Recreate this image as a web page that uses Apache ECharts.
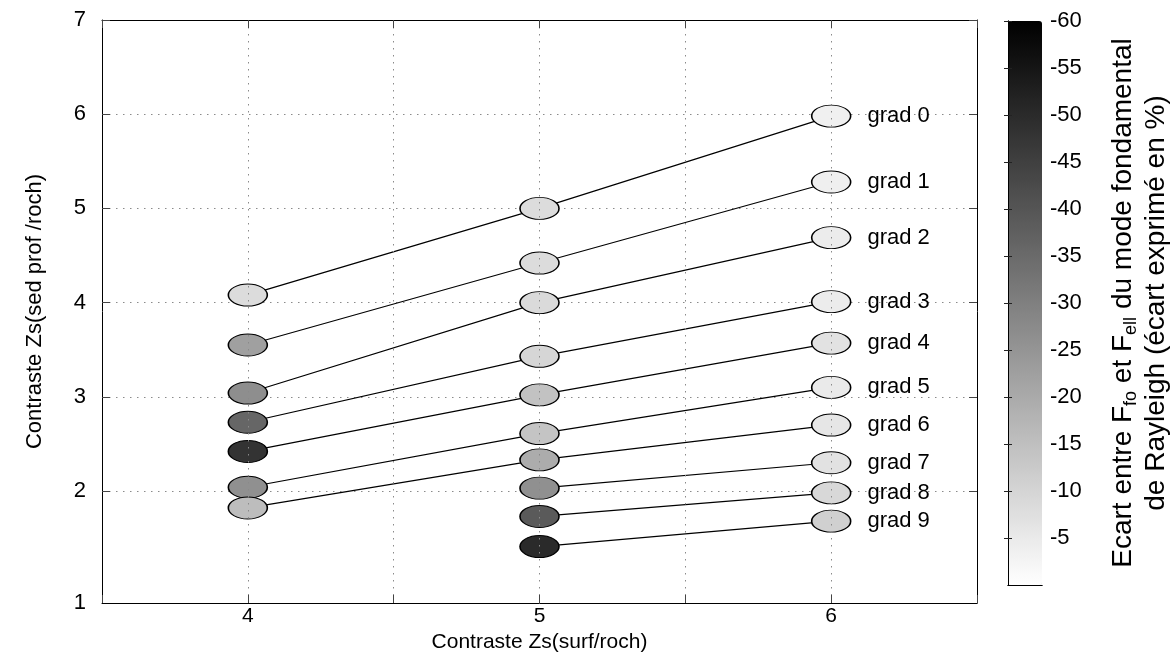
<!DOCTYPE html>
<html>
<head>
<meta charset="utf-8">
<script src="https://cdn.jsdelivr.net/npm/echarts@6/dist/echarts.min.js"></script>
<style>
html,body{margin:0;padding:0;background:#fff;}
#chart{width:1176px;height:652px;}
</style>
</head>
<body>
<div id="chart"></div>
<script>
// ---- data ----
const gradNames = ['grad 0','grad 1','grad 2','grad 3','grad 4','grad 5','grad 6','grad 7','grad 8','grad 9'];
const gradX = [
  [4,5,6],[4,5,6],[4,5,6],[4,5,6],[4,5,6],[4,5,6],[4,5,6],
  [5,6],[5,6],[5,6]
];
const gradY = [
  [4.08, 5.00, 5.98],
  [3.55, 4.42, 5.28],
  [3.04, 4.00, 4.69],
  [2.73, 3.43, 4.01],
  [2.42, 3.02, 3.57],
  [2.04, 2.61, 3.10],
  [1.82, 2.33, 2.70],
  [2.03, 2.30],
  [1.73, 1.98],
  [1.41, 1.68]
];
// Ecart (%) between F_fo and F_ell, read from the grey levels
const gradEcart = [
  [-8.2, -8.2, -3.5],
  [-22.4, -8.2, -3.8],
  [-26.6, -8.7, -4.5],
  [-36.0, -9.6, -4.5],
  [-48.0, -14.4, -6.8],
  [-26.1, -13.9, -4.9],
  [-15.5, -19.5, -5.9],
  [-26.1, -6.8],
  [-38.8, -9.2],
  [-50.1, -11.1]
];
const xLabelValues = [4, 5, 6];
// the reference's bottom tick "1" sits lower than a linear scale through 2..7 would put it
const yAxisMin = 0.811;
const yTickValues = [yAxisMin, 2, 3, 4, 5, 6, 7];
const yTickLabels = ['1', '2', '3', '4', '5', '6', '7'];
const yGridValues = [2, 3, 4, 5, 6];
const colorbarTicks = [-60, -55, -50, -45, -40, -35, -30, -25, -20, -15, -10, -5];
const labelX = 6;

const FONT = "'Liberation Sans', Arial, Helvetica, sans-serif";
const chart = echarts.init(document.getElementById('chart'), null, {renderer: 'canvas'});

const dotStyle = {color: '#8a8a8a', width: 1, type: [1.5, 5.5]};

const series = [];
gradNames.forEach((name, i) => {
  series.push({
    type: 'line', name: name, xAxisIndex: 0, yAxisIndex: 0,
    data: gradX[i].map((x, j) => [x, gradY[i][j]]),
    symbol: 'none', silent: true, z: 2,
    lineStyle: {color: '#000', width: 1.2}
  });
});
// horizontal dotted grid lines
series[0].markLine = {
  silent: true, symbol: 'none', label: {show: false}, z: 1,
  lineStyle: dotStyle, emphasis: {disabled: true},
  data: yGridValues.map(v => ({yAxis: v}))
};
const pts = [];
gradNames.forEach((name, i) => {
  gradX[i].forEach((x, j) => pts.push({name: name, value: [x, gradY[i][j], gradEcart[i][j]]}));
});
series.push({
  type: 'scatter', xAxisIndex: 0, yAxisIndex: 0, z: 3,
  data: pts, symbol: 'circle', symbolSize: [39, 22],
  itemStyle: {borderColor: '#000', borderWidth: 1.2, opacity: 1},
  label: {show: true, position: 'right', distance: 16, color: '#000',
    fontFamily: FONT, fontSize: 22,
    formatter: p => p.value[0] === labelX ? p.name : ''}
});

const option = {
  animation: false,
  backgroundColor: '#fff',
  grid: [
    {left: 102, top: 20, width: 875, height: 583, outerBoundsMode: 'none', containLabel: false},
    {left: 1008, top: 21, width: 34, height: 564, outerBoundsMode: 'none', containLabel: false}
  ],
  xAxis: [
    {gridIndex: 0, type: 'value', min: 3.5, max: 6.5, interval: 0.5, position: 'bottom', z: 5,
     axisLine: {show: true, lineStyle: {color: '#000', width: 1}},
     axisTick: {show: true, inside: true, length: 8, lineStyle: {color: '#444'}},
     axisLabel: {customValues: xLabelValues, color: '#000', fontFamily: FONT, fontSize: 21, margin: 3, lineHeight: 21},
     splitLine: {show: true, showMinLine: false, showMaxLine: false, lineStyle: dotStyle},
     name: 'Contraste Zs(surf/roch)', nameLocation: 'middle', nameGap: 23,
     nameTextStyle: {color: '#000', fontFamily: FONT, fontSize: 21, verticalAlign: 'top', lineHeight: 21}},
    {gridIndex: 0, type: 'value', min: 3.5, max: 6.5, interval: 0.5, position: 'top', z: 5,
     axisLine: {show: true, lineStyle: {color: '#000', width: 1}},
     axisTick: {show: true, inside: true, length: 8, lineStyle: {color: '#444'}},
     axisLabel: {show: false}, splitLine: {show: false}},
    {gridIndex: 1, type: 'value', min: 0, max: 1, position: 'bottom', z: 10,
     axisLine: {show: true, lineStyle: {color: '#000', width: 1}},
     axisTick: {show: false}, axisLabel: {show: false}, splitLine: {show: false}},
    {gridIndex: 1, type: 'value', min: 0, max: 1, position: 'top', z: 10,
     axisLine: {show: true, lineStyle: {color: '#000', width: 1}},
     axisTick: {show: false}, axisLabel: {show: false}, splitLine: {show: false}}
  ],
  yAxis: [
    {gridIndex: 0, type: 'value', min: yAxisMin, max: 7, position: 'left', z: 5,
     axisLine: {show: true, lineStyle: {color: '#000', width: 1}},
     axisTick: {show: true, inside: true, length: 8, customValues: yGridValues.concat([7]), lineStyle: {color: '#444'}},
     axisLabel: {customValues: yTickValues, color: '#000', fontFamily: FONT, fontSize: 22, margin: 16,
       formatter: v => yTickLabels[yTickValues.indexOf(v)]},
     splitLine: {show: false},
     name: 'Contraste Zs(sed prof /roch)', nameLocation: 'middle', nameGap: 56,
     nameTextStyle: {color: '#000', fontFamily: FONT, fontSize: 22}},
    {gridIndex: 0, type: 'value', min: yAxisMin, max: 7, position: 'right', z: 5,
     axisLine: {show: true, lineStyle: {color: '#000', width: 1}},
     axisTick: {show: true, inside: true, length: 8, customValues: yGridValues.concat([7]), lineStyle: {color: '#444'}},
     axisLabel: {show: false}, splitLine: {show: false}},
    {gridIndex: 1, type: 'value', min: -60, max: 0, interval: 5, inverse: true, position: 'right', z: 10,
     axisLine: {show: true, lineStyle: {color: '#000', width: 1}},
     axisTick: {show: true, inside: true, length: 4, customValues: colorbarTicks, lineStyle: {color: '#222'}},
     axisLabel: {customValues: colorbarTicks, color: '#000', fontFamily: FONT, fontSize: 22, margin: 8},
     splitLine: {show: false}},
    {gridIndex: 1, type: 'value', min: -60, max: 0, interval: 5, inverse: true, position: 'left', z: 10,
     axisLine: {show: true, lineStyle: {color: '#000', width: 1}},
     axisTick: {show: true, inside: true, length: 4, customValues: colorbarTicks, lineStyle: {color: '#222'}},
     axisLabel: {show: false}, splitLine: {show: false}}
  ],
  visualMap: [{
    type: 'continuous', seriesIndex: series.length - 1, dimension: 2,
    min: -60, max: 0, inverse: true, calculable: false, hoverLink: false,
    orient: 'vertical', left: 1008, top: 21, itemWidth: 34, itemHeight: 564,
    padding: 0, text: null, showLabel: false,
    inRange: {color: ['#000000', '#ffffff']}
  }],
  graphic: [{
    type: 'text', x: 1140, y: 303, rotation: Math.PI / 2, z: 20,
    style: {
      text: '{a|Ecart entre F}{s|fo}{a| et F}{s|ell}{a| du mode fondamental}\n{a|de Rayleigh (écart exprimé en %)}',
      align: 'center', verticalAlign: 'middle', fill: '#000',
      rich: {
        a: {fontFamily: FONT, fontSize: 28, lineHeight: 33, fill: '#000'},
        s: {fontFamily: FONT, fontSize: 18, lineHeight: 12, verticalAlign: 'bottom', fill: '#000'}
      }
    }
  }],
  series: series
};
chart.setOption(option);
</script>
</body>
</html>
